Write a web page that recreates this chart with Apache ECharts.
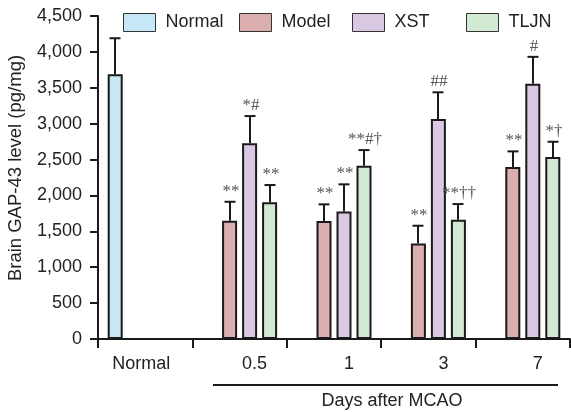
<!DOCTYPE html>
<html>
<head>
<meta charset="utf-8">
<script src="https://cdn.jsdelivr.net/npm/echarts@6/dist/echarts.min.js"></script>
<style>
html,body{margin:0;padding:0;background:#fff;}
#chart{width:571px;height:412px;}
</style>
</head>
<body>
<div id="chart"></div>
<script>
// ---- data ----
const categories = ['Normal', '0.5', '1', '3', '7'];
const seriesNames = ['Normal', 'Model', 'XST', 'TLJN'];
const yTicks = [0, 500, 1000, 1500, 2000, 2500, 3000, 3500, 4000, 4500];

const normalMean = [3690, null, null, null, null];
const normalSD   = [500,  null, null, null, null];
const normalMarks = ['', '', '', '', ''];

const modelMean = [null, 1648, 1643, 1332, 2396];
const modelSD   = [null, 264, 233, 246, 218];
const modelMarks = ['', '**', '**', '**', '**'];

const xstMean = [null, 2726, 1778, 3065, 3556];
const xstSD   = [null, 380, 377, 372, 375];
const xstMarks = ['', '*#', '**', '##', '#'];

const tljnMean = [null, 1904, 2414, 1662, 2535];
const tljnSD   = [null, 241, 218, 218, 213];
const tljnMarks = ['', '**', '**#\u2020', '**\u2020\u2020', '*\u2020'];

const xTitle = 'Days after MCAO';
const yTitle = 'Brain GAP-43 level (pg/mg)';

// ---- styling ----
const colors = ['#c6e8f6', '#dbafaf', '#d8c8e2', '#d2e9d4'];
const FONT = '"Liberation Sans", Arial, Helvetica, sans-serif';
const SERIF = '"Liberation Serif", "Times New Roman", serif';
const INK = '#1a1a1a';
const BAR_W = 15;
const STEP = 20; // bar width + gap

const means = [normalMean, modelMean, xstMean, tljnMean];
const sds = [normalSD, modelSD, xstSD, tljnSD];
const marks = [normalMarks, modelMarks, xstMarks, tljnMarks];

const chart = echarts.init(document.getElementById('chart'), null, {renderer: 'canvas'});

const series = [];
seriesNames.forEach((name, si) => {
  series.push({
    name: name,
    type: 'bar',
    data: means[si],
    barWidth: BAR_W,
    barGap: '33.33%',
    itemStyle: {color: colors[si], borderColor: INK, borderWidth: 2},
    z: 2
  });
});
seriesNames.forEach((name, si) => {
  const data = [];
  means[si].forEach((m, ci) => {
    if (m != null) data.push([ci, m, m + sds[si][ci], marks[si][ci]]);
  });
  const offset = (si - 1.5) * STEP;
  series.push({
    type: 'custom',
    name: name + ' err',
    data: data,
    encode: {x: 0, y: [1, 2]},
    z: 3,
    silent: true,
    renderItem: function (params, api) {
      const ci = api.value(0);
      const base = api.coord([ci, api.value(1)]);
      const top = api.coord([ci, api.value(2)]);
      const x = Math.round(base[0] + offset);
      const txt = data[params.dataIndex][3];
      return {
        type: 'group',
        children: [
          {type: 'line', shape: {x1: x, y1: base[1], x2: x, y2: top[1]}, style: {stroke: INK, lineWidth: 2}},
          {type: 'line', shape: {x1: x - 5.5, y1: top[1], x2: x + 5.5, y2: top[1]}, style: {stroke: INK, lineWidth: 2}},
          {type: 'text', x: x + 1, y: top[1] - 2, style: {text: txt, fill: '#555', font: '17px ' + SERIF, textAlign: 'center', textVerticalAlign: 'bottom'}}
        ]
      };
    }
  });
});

const legendLefts = [123, 239, 352, 466];
const legends = seriesNames.map((n, i) => ({
  data: [n],
  left: legendLefts[i],
  top: 13,
  padding: 0,
  icon: 'rect',
  itemWidth: 32,
  itemHeight: 18,
  itemStyle: {borderColor: '#333', borderWidth: 1},
  textStyle: {fontFamily: FONT, fontSize: 18, color: '#222', padding: [0, 0, 0, 5]},
  selectedMode: false
}));

const option = {
  animation: false,
  backgroundColor: '#fff',
  legend: legends,
  grid: {left: 98, right: 1, top: 16, bottom: 73},
  xAxis: {
    type: 'category',
    data: categories,
    boundaryGap: true,
    axisLine: {lineStyle: {color: INK, width: 2}},
    axisTick: {show: true, interval: 0, alignWithLabel: false, length: 9, lineStyle: {color: INK, width: 2}},
    axisLabel: {
      interval: 0,
      hideOverlap: false,
      margin: 16,
      fontFamily: FONT,
      fontSize: 18,
      color: '#222',
      formatter: function (v, i) { return i === 0 ? '{n|' + v + '}' : '{d|' + v + '}'; },
      rich: {
        n: {fontFamily: FONT, fontSize: 18, color: '#222', padding: [0, 8, 0, 0]},
        d: {fontFamily: FONT, fontSize: 18, color: '#222', padding: [0, 0, 0, 30]}
      }
    }
  },
  yAxis: {
    type: 'value',
    min: yTicks[0],
    max: yTicks[yTicks.length - 1],
    interval: yTicks[1] - yTicks[0],
    axisLine: {show: true, lineStyle: {color: INK, width: 2}},
    axisTick: {show: true, length: 8, lineStyle: {color: INK, width: 2}},
    splitLine: {show: false},
    axisLabel: {
      margin: 16,
      fontFamily: FONT,
      fontSize: 18,
      color: '#222',
      formatter: function (v) { return v.toLocaleString('en-US'); }
    }
  },
  graphic: [
    {type: 'line', shape: {x1: 213, y1: 385, x2: 558, y2: 385}, style: {stroke: INK, lineWidth: 2}},
    {type: 'text', x: 392, y: 401, style: {text: xTitle, font: '18px ' + FONT, fill: '#222', textAlign: 'center', textVerticalAlign: 'middle'}},
    {type: 'text', x: 16, y: 168, rotation: Math.PI / 2, style: {text: yTitle, font: '18.5px ' + FONT, fill: '#222', textAlign: 'center', textVerticalAlign: 'middle'}}
  ],
  series: series
};
chart.setOption(option);
</script>
</body>
</html>
